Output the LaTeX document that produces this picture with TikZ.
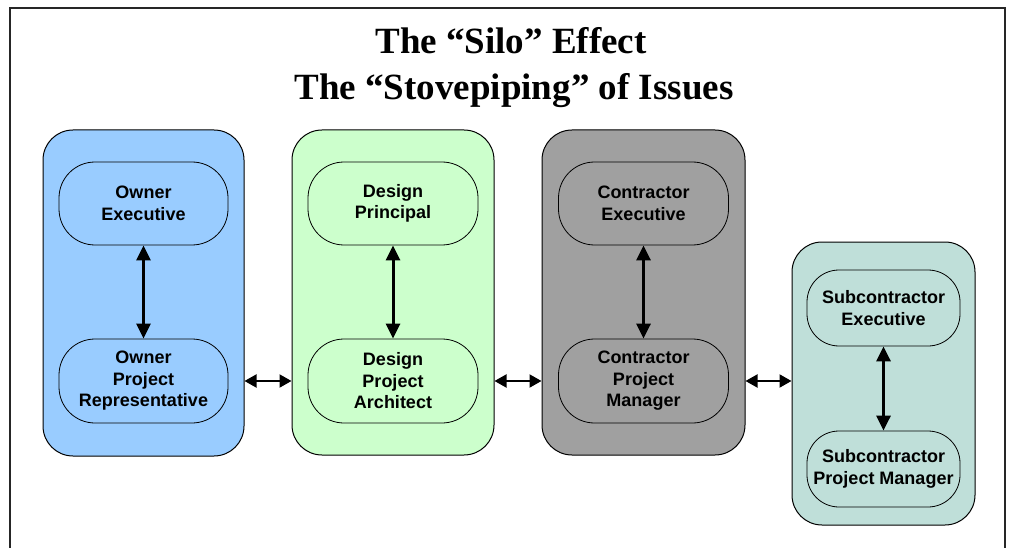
\documentclass[tikz,border=0pt]{standalone}
\usepackage{fontspec}
\setmainfont{Liberation Sans}
\newfontfamily\titlefont{Liberation Serif}
\usetikzlibrary{arrows.meta}
\definecolor{ownerblue}{HTML}{99CCFF}
\definecolor{designgreen}{HTML}{CCFFCC}
\definecolor{contrgray}{HTML}{A0A0A0}
\definecolor{subteal}{HTML}{BFDFD9}
\begin{document}
\begin{tikzpicture}[x=1pt,y=-1pt,
  silo/.style={draw=black, line width=1pt, rounded corners=30pt, inner sep=0pt},
  role/.style={draw=black, line width=0.8pt, rounded corners=36pt, inner sep=0pt, align=center,
    font=\fontsize{18}{21.5}\selectfont\bfseries},
  vlink/.style={line width=3pt, {Triangle[length=15pt,width=14pt]}-{Triangle[length=15pt,width=14pt]}},
  hlink/.style={line width=2pt, {Triangle[length=12pt,width=13pt]}-{Triangle[length=12pt,width=13pt]}},
  title/.style={font=\titlefont\fontsize{37}{46}\selectfont\bfseries, align=center, inner sep=0pt}
]
\useasboundingbox (0,0) rectangle (1009,548);
\draw[line width=1.2pt, black!85] (10,548) -- (10,8) -- (1005,8) -- (1005,548);

\node[title, anchor=base] (t1) at (511,54) {The “Silo” Effect};
\node[title, anchor=base] (t2) at (514,100) {The “Stovepiping” of Issues};

% silos
\node[silo, fill=ownerblue, minimum width=201pt, minimum height=326pt] (bluebox) at (143.5,293) {};
\node[silo, fill=designgreen, minimum width=202pt, minimum height=325pt] (greenbox) at (393,292.5) {};
\node[silo, fill=contrgray, minimum width=203pt, minimum height=325pt] (graybox) at (643.5,292.5) {};
\node[silo, fill=subteal, minimum width=183pt, minimum height=283pt] (tealbox) at (883.5,383.5) {};

% roles
\node[role, fill=ownerblue, minimum width=169pt, minimum height=83pt] (ownerexec) at (143.5,203.5) {Owner\\Executive};
\node[role, fill=ownerblue, minimum width=169pt, minimum height=84pt] (ownerpr) at (143.5,381) {Owner\\Project\\Representative};

\node[role, fill=designgreen, minimum width=170pt, minimum height=83pt] (designp) at (393,203.5) {Design\\Principal};
\node[role, fill=designgreen, minimum width=170pt, minimum height=84pt] (designpa) at (393,381) {Design\\Project\\Architect};

\node[role, fill=contrgray, minimum width=170pt, minimum height=83pt] (contrexec) at (643.5,203.5) {Contractor\\Executive};
\node[role, fill=contrgray, minimum width=170pt, minimum height=84pt] (contrpm) at (643.5,381) {Contractor\\Project\\Manager};

\node[role, rounded corners=32pt, fill=subteal, minimum width=153pt, minimum height=76pt] (subexec) at (883.5,308) {Subcontractor\\Executive};
\node[role, rounded corners=32pt, fill=subteal, minimum width=153pt, minimum height=76pt] (subpm) at (883.5,469) {Subcontractor\\Project Manager};

% vertical links
\draw[vlink] (ownerexec) -- (ownerpr);
\draw[vlink] (designp) -- (designpa);
\draw[vlink] (contrexec) -- (contrpm);
\draw[vlink] (subexec) -- (subpm);

% horizontal links
\draw[hlink] (bluebox.east |- ownerpr) -- (greenbox.west |- ownerpr);
\draw[hlink] (greenbox.east |- designpa) -- (graybox.west |- designpa);
\draw[hlink] (graybox.east |- contrpm) -- (tealbox.west |- contrpm);
\end{tikzpicture}
\end{document}
